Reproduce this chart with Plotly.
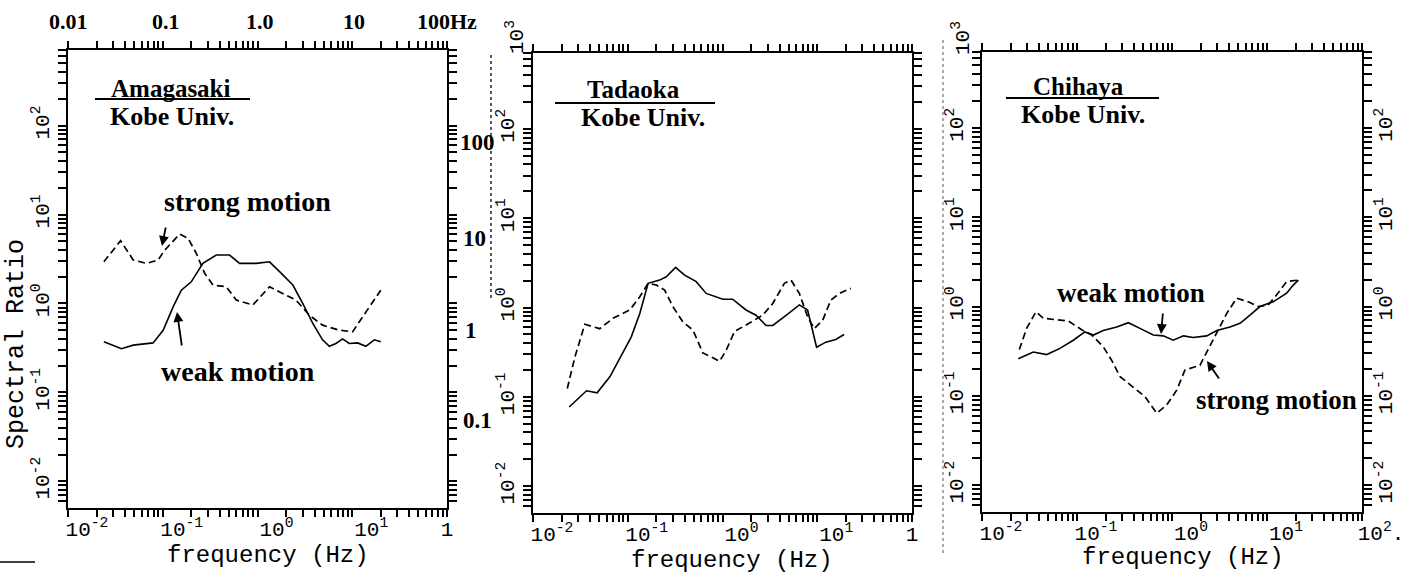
import plotly.graph_objects as go

W, H = 1404, 575

# ---------------- data ----------------
# Amagasaki / Kobe Univ.
amag_strong_f = [0.0239, 0.0359, 0.0488, 0.0673, 0.0893, 0.105, 0.151, 0.185, 0.226, 0.277, 0.339,
                 0.468, 0.597, 0.893, 1.34, 1.85, 2.55, 3.52, 4.86, 7.29, 10.1, 12.9, 20.0]
amag_strong_r = [2.94, 5.07, 3.08, 2.82, 3.08, 3.98, 6.03, 5.40, 3.66, 2.18, 1.61,
                 1.54, 1.09, 0.96, 1.54, 1.30, 1.09, 0.74, 0.57, 0.50, 0.48, 0.71, 1.41]
amag_weak_f = [0.0239, 0.0367, 0.0488, 0.0791, 0.101, 0.129, 0.157, 0.200, 0.265, 0.367, 0.507,
               0.647, 0.968, 1.34, 1.71, 2.36, 3.00, 3.82, 4.86, 5.73, 6.73, 7.91, 9.29, 11.4,
               13.9, 17.1, 20.0]
amag_weak_r = [0.37, 0.31, 0.34, 0.36, 0.50, 0.92, 1.41, 1.75, 2.82, 3.50, 3.50,
               2.82, 2.82, 2.94, 2.28, 1.61, 1.00, 0.60, 0.39, 0.33, 0.355, 0.40, 0.355, 0.36,
               0.33, 0.39, 0.37]

# Tadaoka / Kobe Univ.
tada_strong_f = [0.0230, 0.0277, 0.0352, 0.0507, 0.070, 0.105, 0.134, 0.164, 0.200, 0.245, 0.300,
                 0.382, 0.488, 0.621, 0.760, 0.929, 1.09, 1.34, 1.92, 2.65, 3.39, 4.50, 5.28,
                 6.47, 7.91, 9.29, 11.4, 13.9, 17.1, 22.6]
tada_strong_r = [0.124, 0.28, 0.65, 0.58, 0.76, 0.94, 1.32, 1.87, 1.79, 1.57, 1.02,
                 0.69, 0.56, 0.31, 0.28, 0.25, 0.33, 0.54, 0.67, 0.82, 1.11, 1.87, 2.03,
                 1.44, 0.79, 0.58, 0.72, 1.21, 1.44, 1.64]
tada_weak_f = [0.0241, 0.0367, 0.0475, 0.0647, 0.0824, 0.109, 0.134, 0.164, 0.217, 0.255, 0.320,
               0.398, 0.528, 0.673, 1.01, 1.28, 1.77, 2.26, 2.88, 3.39, 4.69, 6.47, 7.91,
               9.84, 12.3, 15.7, 19.2]
tada_weak_r = [0.077, 0.117, 0.111, 0.168, 0.27, 0.47, 0.86, 1.87, 2.03, 2.21, 2.82,
               2.31, 1.95, 1.44, 1.24, 1.24, 0.94, 0.82, 0.63, 0.63, 0.82, 1.07, 0.94,
               0.36, 0.41, 0.44, 0.50]

# Chihaya / Kobe Univ.
chih_strong_f = [0.0247, 0.0295, 0.0370, 0.0442, 0.0611, 0.0809, 0.112, 0.143, 0.189, 0.232, 0.284,
                 0.392, 0.520, 0.690, 0.879, 1.12, 1.37, 1.97, 2.41, 3.07, 3.77, 4.80, 6.35,
                 8.11, 10.3, 12.6, 16.1, 21.4]
chih_strong_r = [0.33, 0.57, 0.875, 0.74, 0.71, 0.69, 0.55, 0.48, 0.355, 0.25, 0.164,
                 0.126, 0.098, 0.064, 0.079, 0.116, 0.195, 0.22, 0.33, 0.55, 0.84, 1.24, 1.13,
                 1.00, 1.04, 1.35, 1.90, 1.98]
chih_weak_f = [0.0241, 0.0347, 0.048, 0.0662, 0.0914, 0.121, 0.149, 0.189, 0.262, 0.347, 0.460,
               0.635, 0.809, 1.03, 1.32, 1.67, 2.32, 2.96, 4.08, 5.20, 6.62, 8.43, 11.6,
               16.1, 18.9, 21.4]
chih_weak_r = [0.26, 0.31, 0.29, 0.34, 0.42, 0.52, 0.48, 0.54, 0.59, 0.66, 0.57,
               0.48, 0.47, 0.42, 0.47, 0.45, 0.47, 0.54, 0.59, 0.65, 0.80, 1.00, 1.13,
               1.41, 1.74, 1.98]

# ticks
decades = [0.01, 0.1, 1, 10, 100]
x_tick_text_a = ["10<sup>-2</sup>", "10<sup>-1</sup>", "10<sup>0</sup>", "10<sup>1</sup>", "1\u00a0\u00a0\u00a0"]
x_tick_text_c = ["10<sup>-2</sup>", "10<sup>-1</sup>", "10<sup>0</sup>", "10<sup>1</sup>", "10<sup>2</sup>."]
y_tick_text = ["10<sup>-2</sup>", "10<sup>-1</sup>", "10<sup>0</sup>", "10<sup>1</sup>", "10<sup>2</sup>"]
top_scale_labels = ["0.01", "0.1", "1.0", "10", "100Hz"]
overlay_scale_labels = ["100", "10", "1", "0.1"]
site_names = ["Amagasaki", "Tadaoka", "Chihaya"]
ref_name = "Kobe Univ."
y_title = "Spectral Ratio"
x_title = "frequency (Hz)"

# ---------------- helpers ----------------
def px(x):
    return x / W


def py(y):
    return 1 - y / H


INK = "black"
MONO = "Liberation Mono"
SERIF = "Liberation Serif"

fig = go.Figure()

series = [
    ("x", "y", amag_weak_f, amag_weak_r, amag_strong_f, amag_strong_r),
    ("x2", "y2", tada_weak_f, tada_weak_r, tada_strong_f, tada_strong_r),
    ("x3", "y3", chih_weak_f, chih_weak_r, chih_strong_f, chih_strong_r),
]
for i, (xa, ya, wf, wr, sf, sr) in enumerate(series):
    fig.add_trace(go.Scatter(x=wf, y=wr, mode="lines", xaxis=xa, yaxis=ya,
                             line=dict(color=INK, width=1.6), name="weak motion",
                             showlegend=False, hoverinfo="skip"))
    fig.add_trace(go.Scatter(x=sf, y=sr, mode="lines", xaxis=xa,
                             yaxis=("y4" if i == 2 else ya),
                             line=dict(color=INK, width=1.7, dash="7px,4px"),
                             name="strong motion", showlegend=False, hoverinfo="skip"))

# every 1..9 x 10^n position gets a tick mark; only decades get a label
all_ticks = [m * 10.0 ** e for e in range(-3, 3) for m in range(1, 10)]


def labels_for(texts):
    out = []
    for v in all_ticks:
        hit = [t for d, t in zip(decades, texts) if abs(v / d - 1) < 1e-6]
        out.append(hit[0] if hit else "")
    return out


x_domains = [(68, 447), (533, 912), (982, 1362)]
y_domains = [(50, 508), (53, 513), (52, 512)]
YR = [-2.3, 2.85]

layout = dict(
    width=W, height=H, margin=dict(l=0, r=0, t=0, b=0, pad=0),
    paper_bgcolor="white", plot_bgcolor="white", showlegend=False,
)

for i in range(3):
    sfx = "" if i == 0 else str(i + 1)
    x0, x1 = x_domains[i]
    yt, yb = y_domains[i]
    layout["xaxis" + sfx] = dict(
        type="log", range=[-2, 2], domain=[px(x0), px(x1)],
        anchor="y" + sfx, automargin=False,
        showline=True, linecolor=INK, linewidth=2, mirror="ticks",
        ticks="outside", ticklen=7, tickwidth=1.5, tickcolor=INK,
        tickmode="array", tickvals=all_ticks,
        ticktext=labels_for(x_tick_text_c if i == 2 else x_tick_text_a),
        ticklabelshift=19, ticklabelstandoff=-6, ticklabeloverflow="allow",
        tickfont=dict(family=MONO, size=21, color=INK),
        showgrid=False, zeroline=False, fixedrange=True,
    )
    layout["yaxis" + sfx] = dict(
        type="log", range=YR, domain=[py(yb), py(yt)],
        anchor="x" + sfx, automargin=False,
        showline=True, linecolor=INK, linewidth=2, mirror="ticks",
        ticks="outside", ticklen=8, tickwidth=1.5, tickcolor=INK,
        tickmode="array", tickvals=all_ticks, ticktext=labels_for(y_tick_text),
        tickangle=-90, ticklabelstandoff=1, ticklabeloverflow="allow",
        tickfont=dict(family=MONO, size=21, color=INK),
        showgrid=False, zeroline=False, fixedrange=True,
    )

# right-hand tick labels on the Chihaya panel
layout["yaxis4"] = dict(
    type="log", range=YR, overlaying="y3", side="right", anchor="x3",
    automargin=False, showline=False, ticks="", showgrid=False, zeroline=False,
    tickmode="array", tickvals=decades, ticktext=y_tick_text,
    tickangle=-90, ticklabelstandoff=8, ticklabeloverflow="allow",
    tickfont=dict(family=MONO, size=21, color=INK), fixedrange=True,
)
fig.update_layout(**layout)

annotations = []
shapes = []


def text(x, y, s, size=22, family=SERIF, angle=0, bold=True, xanchor="center"):
    annotations.append(dict(
        x=px(x), y=py(y), xref="paper", yref="paper", text=("<b>%s</b>" % s if bold else s),
        showarrow=False, textangle=angle, xanchor=xanchor, yanchor="middle",
        font=dict(family=family, size=size, color=INK)))


def arrow(tx, ty, ax, ay):
    annotations.append(dict(
        x=px(tx), y=py(ty), xref="paper", yref="paper", text="", showarrow=True,
        ax=ax, ay=ay, arrowhead=2, arrowsize=1.1, arrowwidth=1.8, arrowcolor=INK))


# site labels with underline
site_pos = [((171, 88), (95, 250, 99), (172, 116)),
            ((633, 90), (555, 715, 103), (643, 118)),
            ((1078, 87), (1006, 1159, 98), (1083, 115))]
for name, (tp, ul, kp) in zip(site_names, site_pos):
    text(tp[0], tp[1], name, size=25)
    shapes.append(dict(type="line", xref="paper", yref="paper",
                       x0=px(ul[0]), x1=px(ul[1]), y0=py(ul[2]), y1=py(ul[2]),
                       line=dict(color=INK, width=2)))
    text(kp[0], kp[1], ref_name, size=26)

# motion labels and arrows
text(247, 202, "strong motion", size=28)
arrow(162, 246, 4, -20)
text(238, 371, "weak motion", size=28)
arrow(177, 312, 5, 35)
text(1131, 293, "weak motion", size=27)
arrow(1161, 334, 2, -22)
text(1276, 400, "strong motion", size=27)
arrow(1207, 361, 13, 19)

# axis titles
text(16, 344, y_title, size=25, family=MONO, angle=-90, bold=False)
for cx, cy in [(268, 555), (732, 560), (1183, 557)]:
    text(cx, cy, x_title, size=24, family=MONO, bold=False)

# overlaid frequency scale above the first panel
for lab, cx in zip(top_scale_labels, [68, 166, 260, 354, 447]):
    text(cx, 22, lab, size=22)

# overlaid ratio scale between panels 1 and 2
for lab, (cx, cy) in zip(overlay_scale_labels, [(478, 143), (474, 238), (471, 330), (478, 420)]):
    text(cx, cy, lab, size=23)

# extra decade labels at the top of panels 2 and 3
text(515, 37, "10<sup>3</sup>", size=21, family=MONO, angle=-90, bold=False)
text(961, 38, "10<sup>3</sup>", size=21, family=MONO, angle=-90, bold=False)

# faint dotted scan artifacts
shapes.append(dict(type="line", xref="paper", yref="paper", x0=px(491), x1=px(491),
                   y0=py(55), y1=py(300), line=dict(color=INK, width=1.3, dash="dot")))
shapes.append(dict(type="line", xref="paper", yref="paper", x0=px(943), x1=px(943),
                   y0=py(40), y1=py(555), line=dict(color="#555555", width=1, dash="dot")))
shapes.append(dict(type="line", xref="paper", yref="paper", x0=px(0), x1=px(35),
                   y0=py(562), y1=py(562), line=dict(color=INK, width=1.5)))

fig.update_layout(annotations=annotations, shapes=shapes)
fig.write_html("out.html", config={"responsive": False, "displayModeBar": False},
               post_script="document.body.style.margin='0';document.body.style.overflow='hidden';")
